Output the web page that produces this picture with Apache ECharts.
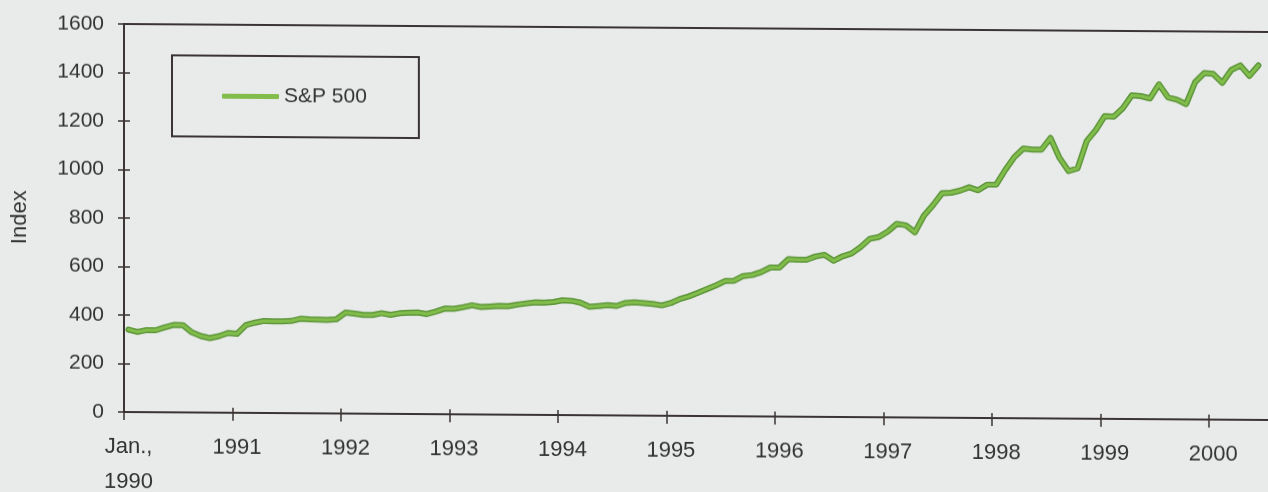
<!DOCTYPE html>
<html>
<head>
<meta charset="utf-8">
<script src="https://cdn.jsdelivr.net/npm/echarts@6/dist/echarts.min.js"></script>
<style>
  html, body { margin: 0; padding: 0; width: 1268px; height: 492px; overflow: hidden; background: #e9eaea; }
  #chart { position: absolute; left: 0; top: 0; width: 1276px; height: 492px;
           transform: skewY(0.4deg); transform-origin: 124px 412px; }
</style>
</head>
<body>
<div id="chart"></div>
<script>
// S&P 500, monthly average index values
const sp1990 = [339.97, 330.45, 338.47, 338.18, 350.25, 360.39, 360.03, 330.75, 315.41, 307.12, 315.29, 328.75];
const sp1991 = [325.49, 362.26, 372.28, 379.68, 377.99, 378.29, 380.23, 389.40, 387.20, 386.88, 385.92, 388.51];
const sp1992 = [416.08, 412.56, 407.36, 407.41, 414.81, 408.27, 415.05, 417.93, 418.48, 412.50, 422.84, 435.64];
const sp1993 = [435.23, 441.70, 450.16, 443.08, 445.25, 448.06, 447.29, 454.13, 459.24, 463.90, 462.89, 465.95];
const sp1994 = [472.99, 471.58, 463.81, 447.23, 450.90, 454.83, 451.40, 464.24, 466.96, 463.81, 461.01, 455.19];
const sp1995 = [465.25, 481.92, 493.15, 507.91, 523.81, 539.35, 557.37, 559.11, 578.77, 582.92, 595.53, 614.57];
const sp1996 = [614.42, 649.54, 647.07, 647.17, 661.23, 668.50, 644.07, 662.68, 674.88, 701.46, 735.67, 743.25];
const sp1997 = [766.22, 798.39, 792.16, 763.93, 833.09, 876.29, 925.29, 927.74, 937.02, 951.16, 938.92, 962.37];
const sp1998 = [963.36, 1023.74, 1076.83, 1112.20, 1108.42, 1108.39, 1156.58, 1074.62, 1020.64, 1032.47, 1144.43, 1190.05];
const sp1999 = [1248.77, 1246.58, 1281.66, 1334.76, 1332.07, 1322.55, 1380.99, 1327.49, 1318.17, 1300.01, 1391.00, 1428.68];
const sp2000 = [1425.59, 1388.87, 1442.21, 1461.36, 1418.48, 1461.96];

const yearLabels = ['Jan.,\n1990', '1991', '1992', '1993', '1994', '1995', '1996', '1997', '1998', '1999', '2000'];
const monthNames = ['Jan', 'Feb', 'Mar', 'Apr', 'May', 'Jun', 'Jul', 'Aug', 'Sep', 'Oct', 'Nov', 'Dec'];

const spValues = [].concat(sp1990, sp1991, sp1992, sp1993, sp1994, sp1995, sp1996, sp1997, sp1998, sp1999, sp2000);

// Month categories Jan 1990 .. Jul 2000 (axis runs slightly past the last observation)
const categories = [];
for (let y = 1990; y <= 2000; y++) {
  for (let m = 0; m < 12; m++) {
    if (y === 2000 && m > 6) break;
    categories.push(monthNames[m] + ' ' + y);
  }
}

const FONT = '"Liberation Sans", Arial, sans-serif';
const AX = '#3b3434';
const TXT = '#333333';

const chart = echarts.init(document.getElementById('chart'), null, { renderer: 'canvas' });
chart.setOption({
  backgroundColor: 'transparent',
  animation: false,
  textStyle: { fontFamily: FONT },
  grid: {
    left: 124, right: 4, top: 24, bottom: 80,
    show: true, borderColor: AX, borderWidth: 2, backgroundColor: 'transparent',
    containLabel: false, outerBoundsMode: 'none'
  },
  legend: {
    data: ['S&P 500'],
    left: 172, top: 55,
    orient: 'horizontal',
    padding: [30, 52, 30, 50],
    borderColor: AX, borderWidth: 2,
    icon: 'roundRect',
    itemWidth: 57, itemHeight: 5,
    textStyle: { fontFamily: FONT, fontSize: 21, color: TXT }
  },
  xAxis: [{
    type: 'category', data: categories, boundaryGap: true, position: 'bottom',
    axisLine: { show: true, lineStyle: { color: AX, width: 2 } },
    axisTick: { show: true, interval: 11, length: 8, inside: false, lineStyle: { color: AX, width: 1.5 } },
    axisLabel: {
      interval: 11, margin: 17, fontSize: 22, lineHeight: 35, color: TXT, fontFamily: FONT,
      formatter: function (v, i) { return yearLabels[Math.round(i / 12)]; }
    },
    splitLine: { show: false }
  }, {
    type: 'category', data: categories, boundaryGap: true, position: 'bottom',
    axisLine: { show: false },
    axisTick: { show: true, interval: 11, length: 5, inside: true, lineStyle: { color: AX, width: 1.5 } },
    axisLabel: { show: false }, splitLine: { show: false }
  }],
  yAxis: [{
    type: 'value', min: 0, max: 1600, interval: 200,
    name: 'Index', nameLocation: 'middle', nameRotate: 90, nameGap: 93,
    nameTextStyle: { fontFamily: FONT, fontSize: 22, color: TXT },
    axisLine: { show: true, lineStyle: { color: AX, width: 2 } },
    axisTick: { show: true, length: 6, inside: false, lineStyle: { color: AX, width: 1.5 } },
    axisLabel: { margin: 20, fontSize: 21, color: TXT, fontFamily: FONT, formatter: function (v) { return String(v); } },
    splitLine: { show: false }
  }, {
    type: 'value', min: 0, max: 1600, interval: 200, position: 'left',
    axisLine: { show: false },
    axisTick: { show: true, length: 6, inside: true, lineStyle: { color: AX, width: 1.5 } },
    axisLabel: { show: false }, splitLine: { show: false }
  }],
  series: [{
    name: 'S&P 500 edge', type: 'line', data: spValues, showSymbol: false, symbol: 'none',
    lineStyle: { color: '#5c963a', width: 6, join: 'round', cap: 'round' }, z: 2, silent: true
  }, {
    name: 'S&P 500', type: 'line', data: spValues, showSymbol: false, symbol: 'none',
    itemStyle: { color: '#82bd4b' },
    lineStyle: { color: '#82bd4b', width: 3, join: 'round', cap: 'round' }, z: 3
  }]
});
</script>
</body>
</html>
